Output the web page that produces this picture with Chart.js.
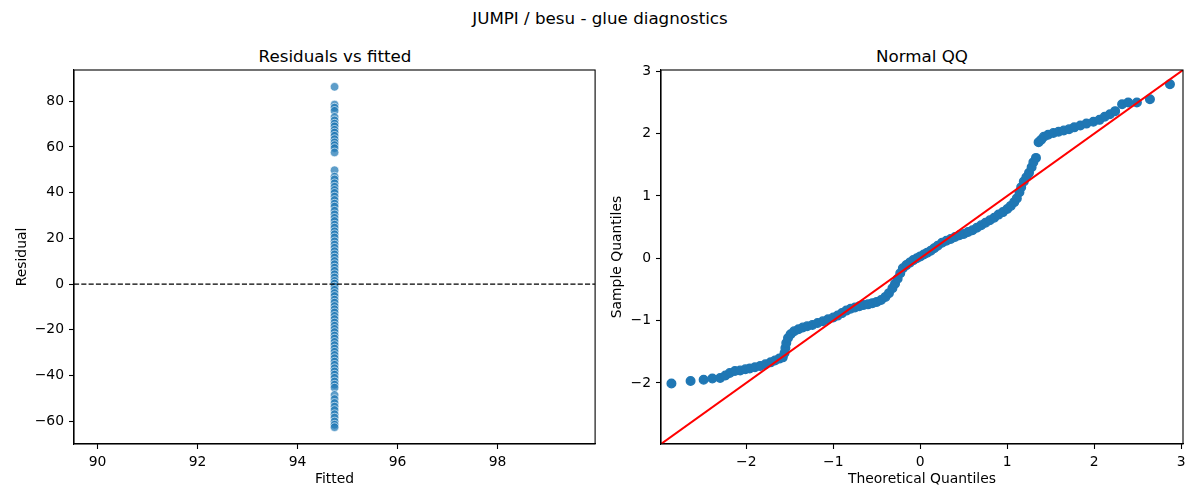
<!DOCTYPE html>
<html><head><meta charset="utf-8">
<script src="https://cdn.jsdelivr.net/npm/chart.js@4/dist/chart.umd.min.js"></script>
<style>
html,body{margin:0;padding:0;background:#fff;}
#wrap{position:relative;width:1200px;height:500px;font-family:"DejaVu Sans",sans-serif;color:#000;overflow:hidden;}
.t{position:absolute;font-size:16.7px;transform:translate(-50%,-50%);white-space:nowrap;line-height:1;}
.box{position:absolute;top:0;width:600px;height:500px;}
</style></head>
<body><div id="wrap">
<div class="t" style="left:600px;top:18px">JUMPI / besu - glue diagnostics</div>
<div class="t" style="left:335px;top:56px">Residuals vs fitted</div>
<div class="t" style="left:922px;top:56px">Normal QQ</div>
<div class="box" style="left:0"><canvas id="c1"></canvas></div>
<div class="box" style="left:600px"><canvas id="c2"></canvas></div>
</div>
<script>
// ---- data ----
const fittedValue = 94.74;
const residuals = [86.3, 78.5, 77.2, 75.8, 73.1, 71.6, 70.2, 69.0, 67.5, 66.3, 64.9, 63.4, 62.0, 60.8, 59.5, 57.6,
  49.8, 47.0, 45.8, 44.1, 42.6, 41.2, 39.9, 38.3, 36.8, 35.2, 33.9, 32.1, 30.5, 29.0, 27.6, 26.0, 24.7, 23.1,
  21.8, 20.4, 18.7, 17.3, 15.9, 14.4, 13.0, 11.6, 10.1, 8.7, 7.2, 5.8, 4.3, 2.9, 1.4, 0.2, -1.1, -2.5, -3.9,
  -5.2, -6.8, -8.1, -9.6, -11.0, -12.4, -13.9, -15.3, -16.8, -18.2, -19.6, -21.0, -22.5, -23.8, -25.3, -26.7,
  -28.2, -29.6, -31.0, -32.4, -33.9, -35.3, -36.8, -38.2, -39.6, -41.0, -42.6, -44.0, -45.3,
  -48.5, -50.3, -52.0, -53.6, -55.1, -56.9, -58.4, -60.1, -61.5, -62.6];
const leftXRange = [89.53, 99.95];
const leftYRange = [-69.96, 93.66];
const leftXTicks = [90, 92, 94, 96, 98];
const leftYTicks = [-60, -40, -20, 0, 20, 40, 60, 80];

const qqTheoretical = [-2.86,-2.64,-2.49,-2.39,-2.30,-2.24,-2.19,-2.13,-2.07,-2.01,
  -1.96,-1.90,-1.84,-1.78,-1.72,-1.67,-1.62,-1.58,
  -1.56,-1.55,-1.54,-1.52,-1.49,-1.45,-1.40,-1.35,-1.30,-1.24,
  -1.18,-1.12,-1.06,-1.00,-0.95,-0.90,-0.85,-0.80,-0.75,-0.70,
  -0.65,-0.60,-0.55,-0.50,-0.45,-0.40,-0.36,-0.32,-0.29,-0.26,
  -0.23,-0.20,-0.16,-0.12,-0.08,-0.04,0.00,0.04,0.08,0.12,
  0.16,0.20,0.25,0.30,0.35,0.40,0.45,0.50,0.55,0.60,
  0.65,0.70,0.75,0.80,0.85,0.90,0.95,1.00,1.04,1.08,
  1.11,1.14,1.16,1.19,1.22,1.25,1.28,1.30,1.33,1.36,
  1.39,1.42,1.47,1.53,1.59,1.65,1.71,1.77,1.84,1.91,
  1.99,2.06,2.12,2.18,2.24,2.32,2.39,2.49,2.64,2.87];
const qqSample = [-2.01,-1.97,-1.95,-1.93,-1.92,-1.88,-1.84,-1.81,-1.80,-1.78,
  -1.77,-1.75,-1.73,-1.70,-1.67,-1.64,-1.61,-1.59,
  -1.52,-1.44,-1.36,-1.28,-1.22,-1.17,-1.14,-1.11,-1.09,-1.07,
  -1.04,-1.01,-0.98,-0.95,-0.92,-0.88,-0.84,-0.81,-0.79,-0.77,
  -0.75,-0.74,-0.72,-0.70,-0.67,-0.62,-0.56,-0.48,-0.41,-0.33,
  -0.24,-0.16,-0.11,-0.07,-0.03,0.00,0.03,0.06,0.09,0.12,
  0.16,0.20,0.25,0.28,0.31,0.34,0.37,0.39,0.42,0.45,
  0.49,0.53,0.57,0.61,0.65,0.70,0.74,0.79,0.84,0.90,
  0.96,1.06,1.14,1.23,1.30,1.37,1.46,1.54,1.61,1.86,
  1.90,1.95,1.98,2.01,2.03,2.05,2.07,2.10,2.13,2.16,
  2.19,2.22,2.27,2.31,2.36,2.47,2.50,2.50,2.55,2.79];
const qqRange = [-2.98, 3.02];
const qqTicks = [-2, -1, 0, 1, 2, 3];

// ---- helpers ----
const FONT = 'DejaVu Sans';
const fmt = v => String(v).replace('-', '\u2212');

function axis(range, tickList, title, titlePad, isX, fixedSize) {
  return {
    type: 'linear',
    position: isX ? 'bottom' : 'left',
    min: range[0], max: range[1],
    grid: {display: true, drawOnChartArea: false, drawTicks: true, tickLength: 5, tickWidth: 1.1, tickColor: '#000'},
    border: {display: true, color: '#000', width: 1.1},
    ticks: {color: '#000', font: {family: FONT, size: 13.9}, padding: 5, maxRotation: 0, autoSkip: false,
            callback: v => fmt(v)},
    title: {display: true, text: title, color: '#000', font: {family: FONT, size: 13.9}, padding: titlePad},
    afterBuildTicks: s => { s.ticks = tickList.map(v => ({value: v})); },
    afterFit: s => { if (isX) s.height = fixedSize; else s.width = fixedSize; }
  };
}

const framePlugin = {
  id: 'frame',
  afterDraw(chart) {
    const {ctx, chartArea: a} = chart;
    ctx.save();
    ctx.strokeStyle = '#000'; ctx.lineWidth = 1.1;
    ctx.strokeRect(a.left, a.top, a.right - a.left, a.bottom - a.top);
    ctx.restore();
  }
};

const zeroLinePlugin = {
  id: 'zeroLine',
  afterDatasetsDraw(chart) {
    const {ctx, chartArea: a, scales} = chart;
    const y = scales.y.getPixelForValue(0);
    ctx.save();
    ctx.strokeStyle = '#000'; ctx.lineWidth = 1.1; ctx.setLineDash([5.1, 2.2]);
    ctx.beginPath(); ctx.moveTo(a.left, y); ctx.lineTo(a.right, y); ctx.stroke();
    ctx.restore();
  }
};

const refLinePlugin = {
  id: 'refLine',
  afterDatasetsDraw(chart) {
    const {ctx, chartArea: a, scales} = chart;
    const lo = qqRange[0], hi = qqRange[1];
    ctx.save();
    ctx.beginPath(); ctx.rect(a.left, a.top, a.right - a.left, a.bottom - a.top); ctx.clip();
    ctx.strokeStyle = '#ff0000'; ctx.lineWidth = 2;
    ctx.beginPath();
    ctx.moveTo(scales.x.getPixelForValue(lo), scales.y.getPixelForValue(lo));
    ctx.lineTo(scales.x.getPixelForValue(hi), scales.y.getPixelForValue(hi));
    ctx.stroke();
    ctx.restore();
  }
};

const common = {
  responsive: true, maintainAspectRatio: false, animation: false,
  plugins: {legend: {display: false}, tooltip: {enabled: false}, title: {display: false}},
  events: []
};

new Chart(document.getElementById('c1'), {
  type: 'scatter',
  data: {datasets: [{
    data: residuals.map(r => ({x: fittedValue, y: r})),
    backgroundColor: 'rgba(31,119,180,0.72)', borderColor: '#ffffff', borderWidth: 0.6,
    pointRadius: 4.3
  }]},
  options: Object.assign({}, common, {
    layout: {padding: {left: 0, top: 70, right: 4, bottom: 0}},
    scales: {
      x: axis(leftXRange, leftXTicks, 'Fitted', {top: 0, bottom: 12.7}, true, 56),
      y: axis(leftYRange, leftYTicks, 'Residual', {top: 13.7, bottom: 0}, false, 74)
    }
  }),
  plugins: [zeroLinePlugin, framePlugin]
});

new Chart(document.getElementById('c2'), {
  type: 'scatter',
  data: {datasets: [{
    data: qqTheoretical.map((x, i) => ({x: x, y: qqSample[i]})),
    backgroundColor: '#1f77b4', borderColor: '#1f77b4', borderWidth: 1.4,
    pointRadius: 4.3
  }]},
  options: Object.assign({}, common, {
    layout: {padding: {left: 0, top: 70, right: 17, bottom: 0}},
    scales: {
      x: axis(qqRange, qqTicks, 'Theoretical Quantiles', {top: 0, bottom: 12.7}, true, 56),
      y: axis(qqRange, qqTicks, 'Sample Quantiles', {top: 8.7, bottom: 0}, false, 61)
    }
  }),
  plugins: [refLinePlugin, framePlugin]
});
</script>
</body></html>
